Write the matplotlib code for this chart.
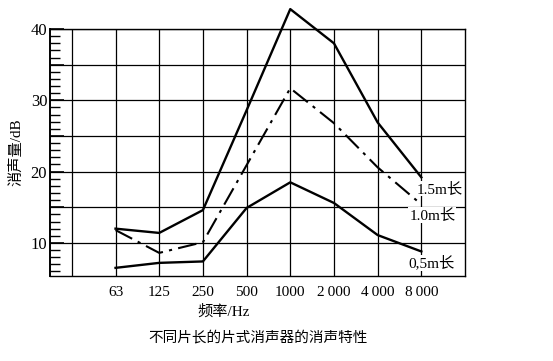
import numpy as np
import matplotlib
matplotlib.use("Agg")
import matplotlib.pyplot as plt

plt.rcParams['font.family'] = ['Liberation Serif', 'Noto Sans CJK SC', 'DejaVu Sans']

# ====== данные ======
freq_labels = ["63", "125", "250", "500", "1000", "2\u2009000", "4\u2009000", "8\u2009000"]
len_15 = [12.0, 11.4, 14.6, 28.6, 42.8, 38.0, 26.9, 19.2]
len_10 = [11.8, 8.6, 10.1, 20.9, 31.7, 26.8, 20.6, 15.4]
len_05 = [6.5, 7.2, 7.4, 14.9, 18.5, 15.6, 11.1, 8.8]
curve_labels = ["1.5m长", "1.0m长", "0,5m长"]

x = np.arange(len(freq_labels))

fig = plt.figure(figsize=(5.53, 3.61), dpi=100)
ax = fig.add_axes([0.0904, 0.2355, 0.7505, 0.684])

ax.plot(x, len_15, color="black", lw=1.7, clip_on=False, zorder=3)
ax.plot(x, len_10, color="black", lw=1.5, dashes=(9, 3, 1.5, 3), zorder=3)
ax.plot(x, len_05, color="black", lw=1.7, zorder=3)

ax.set_xlim(-1.5, 8)
ax.set_ylim(5.36, 40)

ax.set_xticks(np.arange(-1, 8))
ax.set_xticklabels([""] + freq_labels)
ax.tick_params(axis="x", length=0, labelsize=11, pad=7)

ax.set_yticks(np.arange(10, 41, 5))
ax.set_yticklabels(["10", "", "20", "", "30", "", "40"])
ax.set_yticks(np.arange(6, 41, 1), minor=True)
ax.tick_params(axis="y", which="major", direction="in", length=10, width=1.2,
               labelsize=12, pad=2)
ax.tick_params(axis="y", which="minor", direction="in", length=7, width=1.0)

ax.grid(True, which="major", color="black", lw=0.9)
for side in ["top", "right", "bottom"]:
    ax.spines[side].set_linewidth(1.0)
ax.spines["left"].set_linewidth(1.4)

# подписи кривых
box = dict(facecolor="white", edgecolor="none", pad=0.5)
ax.text(7.41, 17.6, curve_labels[0], ha="center", va="center", fontsize=11, bbox=box)
ax.text(7.25, 13.9, curve_labels[1], ha="center", va="center", fontsize=11, bbox=box)
ax.text(7.23, 7.2, curve_labels[2], ha="center", va="center", fontsize=11, bbox=box)

ax.set_ylabel("消声量/dB", fontsize=11, labelpad=5)
fig.text(224 / 553, 1 - 312 / 361, "频率/Hz", ha="center", va="center", fontsize=11)
fig.text(258 / 553, 1 - 338 / 361, "不同片长的片式消声器的消声特性", ha="center",
         va="center", fontsize=10.5)

fig.savefig("out.png", dpi=100)
